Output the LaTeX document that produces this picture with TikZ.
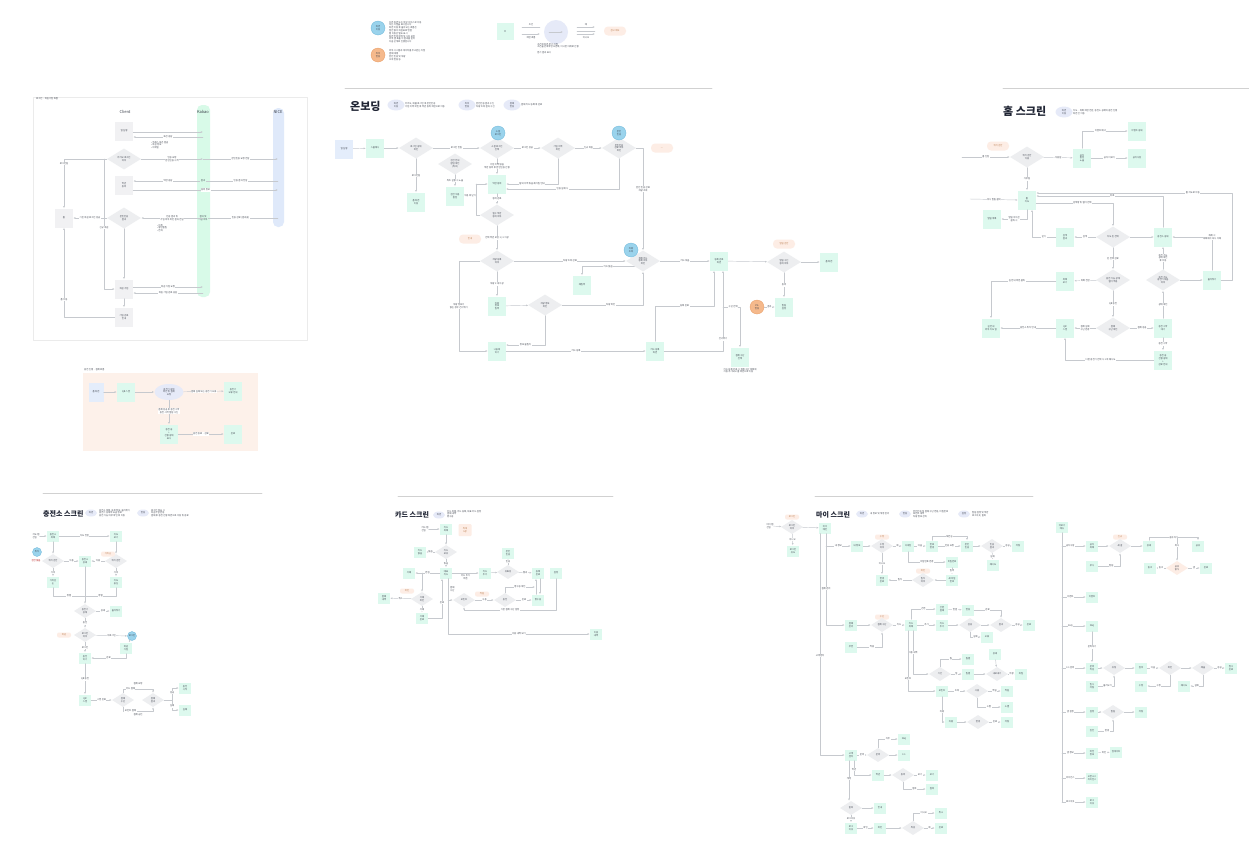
\documentclass[tikz,border=0pt]{standalone}
\usepackage{fontspec}
\setmainfont{Noto Sans CJK KR}
\usetikzlibrary{arrows.meta,shapes.geometric,positioning}
\definecolor{flowline}{HTML}{C6C9CE}
\definecolor{flowtext}{HTML}{3A3F4A}
\definecolor{mintfill}{HTML}{DDF9EE}
\definecolor{greyfill}{HTML}{EDEEF0}
\definecolor{skyfill}{HTML}{9AD3EC}
\definecolor{skyedge}{HTML}{6DB7DA}
\definecolor{apricot}{HTML}{F5B98C}
\definecolor{apricotedge}{HTML}{E89B62}
\definecolor{peachnote}{HTML}{FDEDE5}
\definecolor{lavender}{HTML}{E6EAF8}
\definecolor{icefill}{HTML}{E4EDFB}
\definecolor{lanegreen}{HTML}{D8FAE8}
\definecolor{laneblue}{HTML}{DFE9FA}
\definecolor{panelorange}{HTML}{FDF1EA}
\definecolor{titleink}{HTML}{1F2433}
\newcommand{\tinytext}{\fontsize{2.3}{2.8}\selectfont}

\begin{document}
\begin{tikzpicture}[
  x=1pt, y=-1pt,
  line join=round,
  line cap=round,
  flow/.style={draw=flowline, line width=0.45pt, -{Latex[length=2.2pt,width=1.8pt]}},
  link/.style={draw=flowline, line width=0.45pt},
  lbl/.style={font=\tinytext, text=flowtext, fill=white, inner sep=0.5pt, align=center},
  txt/.style={font=\tinytext, text=flowtext, inner sep=0pt, align=left},
  gbox/.style={fill=mintfill, minimum width=18pt, minimum height=19pt, inner sep=0.5pt, font=\tinytext, text=flowtext, align=center},
  sbox/.style={gbox, minimum width=12pt, minimum height=11pt},
  icebox/.style={gbox, fill=icefill},
  greybox/.style={gbox, fill=greyfill!80},
  gdia/.style={diamond, aspect=1.6, fill=greyfill, minimum width=34pt, minimum height=21pt, inner sep=0pt, font=\tinytext, text=flowtext, align=center},
  sdia/.style={gdia, minimum width=22pt, minimum height=14pt},
  skydot/.style={circle, fill=skyfill, draw=skyedge, line width=0.3pt, minimum size=14pt, inner sep=0pt, font=\tinytext, text=flowtext, align=center},
  skysmall/.style={skydot, minimum size=9pt},
  apridot/.style={skydot, fill=apricot, draw=apricotedge},
  memo/.style={rounded corners=4pt, fill=peachnote, minimum width=22pt, minimum height=9pt, inner sep=0.5pt, font=\tinytext, text=apricotedge!80!black, align=center},
  memosmall/.style={memo, minimum width=14pt, minimum height=5pt, rounded corners=2pt},
  tagoval/.style={ellipse, fill=lavender, minimum width=17pt, minimum height=11pt, inner sep=0pt, font=\tinytext, text=flowtext, align=center},
  tagsmall/.style={tagoval, minimum width=12pt, minimum height=7pt},
  lanehead/.style={font=\fontsize{4}{5}\selectfont, text=flowtext, inner sep=0pt},
  sectitle/.style={font=\bfseries\fontsize{11}{12}\selectfont, text=titleink, inner sep=0pt},
  subtitle/.style={font=\bfseries\fontsize{7}{8}\selectfont, text=titleink, inner sep=0pt},
  divider/.style={draw=black!18, line width=0.7pt}
]
  \useasboundingbox[fill=white] (0,0) rectangle (1249,860);

  % Legend at the top.
  \node[skydot] (keySky) at (378,28) {화면\\이동};
  \node[txt, anchor=west] (keySkyText) at (389,32) {다른 화면 또는 외부 서비스로 이동\\하는 지점을 표시합니다\\화면 이동 후 돌아오는 흐름은\\점선 없이 화살표로 연결\\탭 이동은 별도 표시\\화면 안의 팝업 및 시트 포함\\외부 앱 호출 시 결과를 받아\\다음 단계로 진행합니다};
  \node[apridot] (keyApri) at (378,55) {외부\\연동};
  \node[txt, anchor=west] (keyApriText) at (389,55) {외부 시스템과 데이터를 주고받는 지점\\결제 대행\\본인 인증 및 차량\\조회 연동 등};
  \node[gbox, minimum width=17pt, minimum height=17pt] (keyBox) at (505,31) {};
  \fill[flowtext] (keyBox.center) circle[radius=0.7pt];
  \coordinate (keyA1) at (522,27);
  \coordinate (keyA2) at (540,27);
  \coordinate (keyB1) at (522,34);
  \coordinate (keyB2) at (540,34);
  \draw[link] (keyA1) -- node[lbl, above=0.5pt]{조건} (keyA2);
  \draw[flow] (keyB1) -- node[lbl, below=1.5pt]{화면 흐름} (keyB2);
  \node[circle, fill=lavender, minimum size=24pt] (keyOval) at (556,32) {};
  \coordinate (keyOvalL) at (549,32);
  \coordinate (keyOvalR) at (563,32);
  \draw[flow] (keyOvalL) -- (keyOvalR);
  \node[txt, anchor=north] (keyOvalText) at (558,43) {조건에 따른 분기 지점\\조건을 만족하면 오른쪽, 아니면 아래로 진행\\\\분기 결과 표시};
  \coordinate (keyC1) at (577,27);
  \coordinate (keyC2) at (595,27);
  \coordinate (keyD1) at (577,31);
  \coordinate (keyD2) at (595,31);
  \coordinate (keyE1) at (577,34);
  \coordinate (keyE2) at (595,34);
  \draw[flow] (keyC1) -- node[lbl, above=0.5pt]{예} (keyC2);
  \draw[link] (keyD1) -- (keyD2);
  \draw[flow] (keyE1) -- node[lbl, below=1.5pt]{아니오} (keyE2);
  \node[memo] (keyMemo) at (615,31) {참고 메모};

  % Section dividers.
  \draw[divider] (345,88) -- (712,88);
  \draw[divider] (1003,88) -- (1249,88);
  \draw[divider] (43,493) -- (262,493);
  \draw[divider] (398,496) -- (613,496);
  \draw[divider] (815,496) -- (1033,496);

  % Login swimlane panel.
  \draw[draw=black!8, fill=white] (33,97) rectangle (307,340);
  \node[txt, anchor=west] (loginCap) at (36,99) {로그인 · 회원가입 흐름};
  \fill[lanegreen, rounded corners=5pt] (197,105) rectangle (210,297);
  \fill[laneblue, rounded corners=5pt] (273,108) rectangle (284,227);
  \node[lanehead] (laneClient) at (125,112) {Client};
  \node[lanehead] (laneKakao) at (203,112) {Kakao};
  \node[lanehead] (laneNice) at (278,112) {NICE};
  \node[greybox] (cStart) at (124,131) {앱 실행};
  \node[gdia] (cAuth) at (124,159) {카카오 로그인\\여부};
  \node[greybox] (cAgree) at (124,185) {약관\\동의};
  \node[gdia] (cCheck) at (124,218) {본인인증\\결과};
  \node[greybox] (cHome) at (64,218) {홈};
  \node[greybox] (cSignup) at (124,289) {회원 가입};
  \node[greybox] (cDone) at (124,317) {가입 완료\\안내};
  \coordinate (kA) at (203,132);
  \coordinate (kB) at (203,137);
  \coordinate (kC) at (203,159);
  \coordinate (kD) at (203,181);
  \coordinate (kE) at (203,190);
  \coordinate (kF) at (203,218);
  \coordinate (kG) at (203,287);
  \coordinate (kH) at (203,293);
  \coordinate (nC) at (278,159);
  \coordinate (nD) at (278,181);
  \coordinate (nE) at (278,190);
  \coordinate (nF) at (278,218);
  \draw[flow] (cStart.east |- kA) -- (kA);
  \draw[flow] (kB) -- node[lbl]{토큰 응답} (cStart.east |- kB);
  \node[txt, anchor=north west] (cBulletA) at (151,141) {• 액세스 토큰 발급\\• 회원 정보\\• 이메일};
  \draw[flow] (cAuth) -- node[lbl]{인증 요청\\본인인증 시작} (kC);
  \draw[flow] (kC) -- node[lbl]{본인인증 요청 전달} (nC);
  \draw[flow] (kD) -- node[lbl]{약관 응답} (cAgree.east |- kD);
  \draw[flow] (nD) -- node[lbl]{인증 결과 전달} (kD);
  \node[lbl, fill=lanegreen] (kDTag) at (kD) {결과};
  \draw[flow] (cAgree.east |- kE) -- node[lbl, pos=0.5]{동의 정보} (nE);
  \draw[flow] (nF) -- node[lbl]{인증 완료 (결과값)} (kF);
  \node[lbl, fill=lanegreen] (kFTag) at (kF) {결과 및\\가입 여부};
  \draw[flow] (kF) -- node[lbl]{인증 결과 및\\가입 여부 확인 결과 전달} (cCheck);
  \node[txt, anchor=north west] (cBulletB) at (157,224) {• 이름\\• 생년월일\\• 전화};
  \draw[flow] (cCheck) -- node[lbl]{기존 회원 로그인 성공} (cHome);
  \draw[flow] (cAuth.west) -- (cAuth.west -| cHome.north) -- node[lbl, pos=0.1]{로그인됨} (cHome.north);
  \coordinate (cMidX) at (104,159);
  \draw[flow] (cMidX) -- node[lbl, pos=0.53]{신규 회원} (cMidX |- cSignup.west) -- (cSignup.west);
  \draw[flow] (cCheck) -- (cSignup);
  \draw[flow] (cSignup.east |- kG) -- node[lbl]{회원 가입 요청} (kG);
  \draw[flow] (kH) -- node[lbl]{회원 가입 완료 응답} (cSignup.east |- kH);
  \draw[flow] (cSignup) -- (cDone);
  \draw[flow] (cDone.west) -| node[lbl, pos=0.6]{홈 이동} (cHome.south);

  % Charging panel with orange background.
  \fill[panelorange] (83,373) rectangle (258,451);
  \node[txt, anchor=west] (ppCap) at (84,370) {충전 진행 · 결제 흐름};
  \node[icebox, minimum width=15pt] (ppIn) at (96,392) {홈 화면};
  \node[gbox] (ppScan) at (126,392) {QR 스캔};
  \node[ellipse, fill=lavender, minimum width=29pt, minimum height=16pt, inner sep=0pt, font=\tinytext, text=flowtext, align=center] (ppCheck) at (169,392) {충전기 상태\\확인 및 결제\\요청};
  \node[gbox] (ppFail) at (233,391) {충전기\\오류 안내};
  \node[gbox] (ppCharge) at (169,434) {충전 중\\+\\진행 상태\\표시};
  \node[gbox] (ppDone) at (233,434) {완료};
  \draw[flow] (ppIn) -- (ppScan);
  \draw[flow] (ppScan) -- (ppCheck);
  \draw[flow] (ppCheck) -- node[lbl]{결제 실패 또는 충전기 오류} (ppFail);
  \draw[flow] (ppCheck) -- node[lbl, pos=0.45]{결제 성공 후 충전 시작\\충전 시작 알림 수신} (ppCharge);
  \draw[flow] (ppCharge) -- node[lbl]{충전 종료 · 완료} (ppDone);

  % Onboarding section.
  \node[sectitle, anchor=west] (obTitle) at (350,106) {온보딩};
  \node[tagoval] (obTag1) at (396,105) {화면\\이동};
  \node[txt, anchor=west] (obTag1Text) at (405,105) {카카오, 애플 로그인 후 본인인증\\가입 이력 확인 후 약관 동의 화면으로 이동};
  \node[tagoval] (obTag2) at (467,105) {외부\\연동};
  \node[txt, anchor=west] (obTag2Text) at (476,105) {본인인증 결과 수신\\차량 조회 결과 수신};
  \node[tagoval] (obTag3) at (512,105) {결제\\연동};
  \node[txt, anchor=west] (obTag3Text) at (521,105) {결제 카드 등록 후 완료};
  \node[icebox] (obLaunch) at (344,149) {앱 실행};
  \node[gbox] (obSplash) at (375,148) {스플래시};
  \node[gdia] (obLogged) at (416,148) {로그인 상태\\확인};
  \node[gdia] (obInvite) at (455,164) {권한 안내\\팝업 확인\\(최초)};
  \node[gbox] (obMain) at (416,202) {홈 화면\\이동};
  \node[gbox] (obCode) at (455,196) {권한 허용\\팝업};
  \node[gdia] (obSocial) at (497,148) {소셜 로그인\\선택};
  \node[skydot] (obSkyA) at (498,133) {소셜\\로그인};
  \node[gdia] (obTerms) at (558,148) {가입 이력\\확인};
  \node[gdia] (obPhone) at (619,148) {본인인증\\완료 여부\\확인};
  \node[skydot] (obSkyB) at (619,133) {본인\\인증};
  \node[memo] (obMemoA) at (662,148) {—};
  \node[gbox] (obJoin) at (497,184) {약관 동의};
  \node[gdia] (obPerm) at (497,215) {필수 약관\\동의 여부};
  \node[memo] (obMemoB) at (470,239) {안내};
  \node[gdia] (obCar) at (497,261) {차량 등록\\여부};
  \node[gbox] (obCarAdd) at (497,306) {차량\\정보\\입력};
  \node[gdia] (obCarChk) at (545,305) {차량 정보\\확인};
  \node[gbox] (obSkip) at (497,351) {나중에\\하기};
  \node[gdia] (obCard) at (643,261) {결제 카드\\등록 여부\\확인};
  \node[skydot] (obSkyC) at (631,250) {차량\\조회};
  \node[gbox] (obCardNo) at (582,285) {재입력};
  \node[gbox] (obCardReg) at (655,351) {카드 등록\\화면};
  \node[gbox] (obReady) at (719,261) {등록 완료\\화면};
  \node[apridot] (obPg) at (757,307) {PG\\연동};
  \node[gbox] (obPgRes) at (740,357) {결제 수단\\선택};
  \node[txt, anchor=north] (obPgNote) at (740,368) {카드 등록 완료 시 결제 수단 목록에\\자동 추가되고 홈 화면으로 이동};
  \node[memo] (obMemoC) at (784,244) {알림 권한};
  \node[gdia] (obFinal) at (784,262) {알림 수신\\동의 여부};
  \node[gbox] (obHome) at (829,262) {홈 화면};
  \node[gbox] (obNotice) at (784,307) {알림\\설정};
  \draw[flow] (obLaunch) -- (obSplash);
  \draw[flow] (obSplash) -- (obLogged);
  \draw[flow] (obLogged) -- node[lbl]{로그인 안됨} (obSocial);
  \draw[flow] (obLogged) -- node[lbl]{로그인됨} (obMain);
  \draw[flow] (obInvite) -- node[lbl]{최초 실행 시 노출} (obCode);
  \coordinate (obLoopTop) at (476,184);
  \coordinate (obLoopBot) at (476,215);
  \draw[flow] (obCode.east) -- node[lbl]{허용 후 닫기} (obCode.east -| obLoopTop);
  \draw[link] (obPerm.west) -- (obLoopBot) -- (obLoopTop);
  \draw[flow] (obLoopTop) -- (obJoin.west);
  \draw[flow] (obSocial) -- node[lbl]{로그인 성공} (obTerms);
  \draw[flow] (obTerms) -- node[lbl]{신규 회원} (obPhone);
  \draw[flow] (obSocial) -- node[lbl]{가입 이력 없음\\약관 동의 후 본인인증 진행} (obJoin);
  \draw[flow] (obTerms.south) |- node[lbl, pos=0.75]{탈퇴 이력 있음 재가입 안내} (obJoin.east);
  \coordinate (obJoinIn) at (506,189);
  \draw[flow] (obPhone.south) |- node[lbl, pos=0.75]{인증 실패 시} (obJoinIn);
  \draw[flow] (obPhone.east) -- (obPhone.east -| obCard.north) -- node[lbl, pos=0.4]{본인 인증 완료\\차량 조회} (obCard.north);
  \draw[flow] (obJoin) -- node[lbl]{동의 완료} (obPerm);
  \draw[flow] (obPerm) -- node[lbl]{선택 약관 포함 1 / 2 이상} (obCar);
  \draw[flow] (obCar) -- node[lbl]{차량 조회 완료} (obCard);
  \draw[flow] (obCar) -- node[lbl]{차량 1 대 이상} (obCarAdd);
  \draw[flow] (obCar.west) -- ++(-21,0) |- node[lbl, pos=0.25]{차량 정보가\\없는 경우 건너뛰기} (obSkip.west);
  \draw[flow] (obCarAdd) -- (obCarChk);
  \draw[flow] (obCarChk.east) -| node[lbl, pos=0.3]{차량 확인} (obCard.south);
  \coordinate (obSkipIn) at (506,345);
  \draw[flow] (obCarChk.south) |- node[lbl, pos=0.75]{정보 불일치} (obSkipIn);
  \draw[flow] (obSkip) -- node[lbl]{카드 등록} (obCardReg);
  \draw[flow] (obCard.south west) -| node[lbl, pos=0.25]{카드 없음} (obCardNo.north);
  \draw[flow] (obCard) -- node[lbl]{카드 있음} (obReady);
  \coordinate (obTurnA) at (714,306);
  \draw[flow] (obCardReg.north) |- node[lbl, pos=0.75]{등록 완료} (obTurnA) -- (obTurnA |- obReady.south);
  \coordinate (obTurnB) at (723,351);
  \draw[flow] (obCardReg.east) -- (obTurnB) -- node[lbl, pos=0.15]{건너뛰기} (obTurnB |- obReady.south);
  \coordinate (obTurnC) at (723,307);
  \draw[flow] (obTurnC) -| node[lbl, pos=0.3]{수단 선택} (obPgRes.north);
  \draw[flow] (obReady) -- (obFinal);
  \draw[flow] (obFinal) -- (obHome);
  \draw[flow] (obFinal) -- node[lbl]{동의} (obNotice);
  \draw[flow] (obPg) -- node[lbl]{결과} (obNotice);

  % Home screen section.
  \node[sectitle, anchor=west] (hmTitle) at (1003,111) {홈 스크린};
  \node[tagoval] (hmTag) at (1064,112) {화면\\이동};
  \node[txt, anchor=west] (hmTagText) at (1073,112) {지도 · 목록 화면 전환, 충전소 상세와 충전 진행\\화면 간 이동};
  \node[memo] (hmMemo) at (998,146) {위치 권한};
  \coordinate (hmEntry) at (962,157);
  \node[gdia] (hmLogin) at (1027,157) {위치 권한\\허용};
  \node[gbox] (hmPopup) at (1082,158) {공지\\팝업\\노출};
  \node[gbox] (hmEvent) at (1137,131) {이벤트 상세};
  \node[gbox] (hmNotice) at (1137,158) {공지사항};
  \node[gbox] (hmMain) at (1027,200) {홈\\지도};
  \node[gbox] (hmAlarm) at (992,219) {알림 목록};
  \node[gbox] (hmSearch) at (1065,237) {검색\\결과};
  \node[gdia] (hmMap) at (1113,237) {지도 핀 선택};
  \node[gbox] (hmStation) at (1163,237) {충전소 상세};
  \node[gdia] (hmFilter) at (1113,280) {충전 가능 상태\\필터 적용};
  \node[gbox] (hmList) at (1065,281) {목록\\보기};
  \node[gbox] (hmFav) at (1212,280) {즐겨찾기};
  \node[gdia] (hmCharge) at (1163,280) {충전 가능\\충전기 있음\\여부};
  \node[gbox] (hmRoute) at (991,328) {길 안내\\외부 지도 앱};
  \node[gbox] (hmQr) at (1065,328) {QR\\스캔};
  \node[gdia] (hmPay) at (1113,328) {결제\\수단 확인};
  \node[gbox] (hmStart) at (1163,328) {충전 시작\\대기};
  \node[gbox] (hmEnd) at (1163,360) {충전 중\\진행 상태\\+\\완료 안내};
  \draw[flow] (hmEntry) -- node[lbl]{홈 진입} (hmLogin);
  \draw[flow] (hmLogin) -- node[lbl]{허용됨} (hmPopup);
  \draw[flow] (hmPopup) -- node[lbl]{공지 더보기} (hmNotice);
  \draw[flow] (hmPopup.north) |- node[lbl, pos=0.7]{이벤트 배너} (hmEvent.west);
  \draw[flow] (hmLogin) -- node[lbl]{거부됨} (hmMain);
  \coordinate (hmAlarmIn) at (970,199);
  \draw[flow] (hmAlarmIn) -- node[lbl]{푸시 알림 클릭} (hmMain.west);
  \draw[flow] (hmMain.south) |- node[lbl, pos=0.75]{알림 아이콘\\클릭 시} (hmAlarm.east);
  \coordinate (hmTopR) at (1232,193);
  \draw[flow] (hmFav.east) -- (hmFav.east -| hmTopR) -- (hmTopR) -- node[lbl, pos=0.2]{홈 지도로 이동} (hmMain.east |- hmTopR);
  \coordinate (hmBackA) at (1163,196);
  \draw[flow] (hmStation.north) -- (hmBackA) -- node[lbl, pos=0.4]{뒤로} (hmMain.east |- hmBackA);
  \coordinate (hmTurnS) at (1113,203);
  \draw[flow] (hmMain.east |- hmTurnS) -- node[lbl, pos=0.6]{검색창 및 필터 선택} (hmTurnS) -- (hmMap.north);
  \coordinate (hmTurnM) at (1032,237);
  \draw[flow] (hmSearch.west) -- node[lbl]{닫기} (hmTurnM) -- (hmTurnM |- hmMain.south);
  \draw[flow] (hmMap) -- node[lbl]{검색} (hmSearch);
  \draw[flow] (hmMap) -- node[lbl]{핀 선택 완료} (hmFilter);
  \draw[flow] (hmMap) -- (hmStation);
  \draw[flow] (hmFilter) -- node[lbl]{목록 전환} (hmList);
  \draw[flow] (hmList.west) -| node[lbl, pos=0.3]{길 안내 버튼 클릭} (hmRoute.north);
  \draw[flow] (hmFilter) -- node[lbl]{QR 충전} (hmPay);
  \draw[flow] (hmPay) -- node[lbl]{결제 실패\\수단 변경} (hmQr);
  \draw[flow] (hmQr) -- node[lbl]{충전소 위치 안내} (hmRoute);
  \draw[flow] (hmPay) -- node[lbl]{결제 성공} (hmStart);
  \draw[flow] (hmStart) -- node[lbl]{상태 확인} (hmCharge);
  \draw[flow] (hmStart) -- node[lbl]{충전 시작} (hmEnd);
  \draw[flow] (hmEnd.west) -| node[lbl, pos=0.3]{다른 충전기 선택 시 1 회 재시도} (hmQr.south);
  \draw[flow] (hmCharge) -- node[lbl]{충전 가능\\상태 확인\\후 이동} (hmStation);
  \draw[flow] (hmCharge) -- (hmFav);
  \draw[flow] (hmFav.north) |- node[lbl, pos=0.5]{해제 시\\목록에서 즉시 삭제} (hmStation.east);

  % Charging station section.
  \node[subtitle, anchor=west] (csTitle) at (43,514) {충전소 스크린};
  \node[tagsmall] (csTag1) at (91,513) {화면};
  \node[txt, anchor=west] (csTag1Text) at (99,513) {충전소 목록, 상세 정보, 즐겨찾기\\충전기 상태와 요금 정보\\충전 가능 여부 확인 후 이동};
  \node[tagsmall] (csTag2) at (143,513) {연동};
  \node[txt, anchor=west] (csTag2Text) at (151,513) {로그인 필요 시\\회원가입 연동\\결제 후 충전 진행 화면으로 이동 및 종료};
  \node[txt] (csIn) at (36,536) {지도 탭\\진입};
  \node[sbox] (csList) at (53,536) {충전소\\목록};
  \node[sbox] (csMapView) at (116,536) {지도\\보기};
  \node[skysmall] (csSky) at (37,552) {위치};
  \node[txt, text=red!70!black] (csWarn) at (36,561) {권한 없음};
  \node[sdia] (csPermA) at (53,561) {위치 권한};
  \node[sbox] (csDetail) at (85,561) {충전소\\상세};
  \node[sdia] (csPermB) at (116,561) {위치 권한};
  \node[memosmall] (csMemo) at (108,554) {거리순};
  \node[sbox] (csNearA) at (53,582) {가까운\\순};
  \node[sbox] (csNearB) at (116,582) {지도\\중심};
  \node[sdia] (csAvail) at (85,611) {충전기\\상태};
  \node[sbox] (csFavAdd) at (116,611) {즐겨찾기};
  \node[sdia] (csLogin) at (85,635) {로그인\\여부};
  \node[memosmall] (csMemoB) at (64,635) {회원};
  \node[skysmall] (csSkyB) at (132,636) {로그인};
  \node[sbox] (csJoin) at (126,648) {회원\\가입};
  \node[sbox] (csCharge) at (85,658) {충전\\하기};
  \node[sbox] (csQr) at (85,700) {QR\\스캔};
  \node[sdia] (csPayA) at (123,700) {결제\\수단};
  \node[sdia] (csPayB) at (153,700) {결제\\결과};
  \node[sbox] (csOk) at (185,688) {충전\\시작};
  \node[sbox] (csFail) at (185,710) {실패};
  \draw[flow] (csIn) -- (csList);
  \draw[flow] (csList) -- node[lbl]{지도 전환} (csMapView);
  \draw[flow] (csList) -- (csPermA);
  \draw[flow] (csMapView) -- (csPermB);
  \draw[flow] (csPermA) -- node[lbl]{허용} (csDetail);
  \draw[flow] (csPermB) -- node[lbl]{허용} (csDetail);
  \draw[flow] (csPermA) -- node[lbl]{거부} (csNearA);
  \draw[flow] (csPermB) -- node[lbl]{거부} (csNearB);
  \coordinate (csJoinRow) at (85,596);
  \draw[link] (csNearA.south) |- node[lbl, pos=0.75]{정렬} (csJoinRow);
  \draw[link] (csNearB.south) |- node[lbl, pos=0.75]{정렬} (csJoinRow);
  \draw[flow] (csDetail) -- (csAvail);
  \draw[flow] (csAvail) -- node[lbl]{상세} (csFavAdd);
  \draw[flow] (csAvail) -- node[lbl]{충전} (csLogin);
  \draw[flow] (csLogin) -- node[lbl]{미로그인} (csSkyB);
  \draw[flow] (csSkyB) -- (csJoin);
  \draw[flow] (csJoin.south) |- node[lbl, pos=0.75]{완료} (csCharge.east);
  \draw[flow] (csLogin) -- node[lbl]{로그인} (csCharge);
  \draw[flow] (csCharge) -- node[lbl]{QR 충전} (csQr);
  \draw[flow] (csQr) -- node[lbl]{스캔 완료} (csPayA);
  \coordinate (csArcTop) at (138,689);
  \coordinate (csArcBot) at (138,711);
  \draw[flow] (csPayA.north) |- node[lbl, pos=0.75]{카드 결제} (csArcTop) -| (csPayB.north);
  \draw[flow] (csPayA.south) |- node[lbl, pos=0.75]{포인트 결제} (csArcBot) -| (csPayB.south);
  \node[txt] (csArcNoteA) at (138,684) {결제 요청};
  \node[txt] (csArcNoteB) at (138,715) {결제 승인};
  \draw[flow] (csPayB.east) -- ++(8,0) |- node[lbl, pos=0.3]{성공} (csOk.west);
  \draw[flow] (csPayB.east) -- ++(8,0) |- node[lbl, pos=0.3]{실패} (csFail.west);

  % Card screen section.
  \node[subtitle, anchor=west] (cdTitle) at (395,515) {카드 스크린};
  \node[tagsmall] (cdTag) at (439,515) {화면};
  \node[txt, anchor=west] (cdTagText) at (447,514) {카드 목록, 카드 등록, 대표 카드 설정\\결제 내역\\영수증};
  \node[txt] (cdIn) at (425,529) {카드 탭\\진입};
  \node[sbox] (cdList) at (446,529) {카드\\목록};
  \node[memo, minimum width=13pt, minimum height=12pt, rounded corners=1pt] (cdMemo) at (465,530) {최대\\5장};
  \node[sbox] (cdEmpty) at (420,552) {카드\\없음};
  \node[sdia] (cdHas) at (446,552) {카드\\보유};
  \node[sbox] (cdDel) at (409,573) {삭제};
  \node[sbox] (cdMain) at (446,573) {대표\\카드};
  \node[sbox] (cdAdd) at (485,573) {카드\\추가};
  \node[sdia] (cdValid) at (508,572) {유효성};
  \node[sbox] (cdAuth) at (508,553) {본인\\인증};
  \node[sbox] (cdDone) at (538,573) {등록\\완료};
  \node[sbox] (cdSet) at (556,573) {설정};
  \node[sbox] (cdPay) at (384,598) {결제\\내역};
  \node[memosmall] (cdMemoB) at (407,591) {확인};
  \node[sdia] (cdConfirm) at (422,599) {삭제\\확인};
  \node[sbox] (cdRemoved) at (422,618) {삭제\\완료};
  \node[sdia] (cdPoint) at (464,600) {포인트};
  \node[memosmall] (cdMemoC) at (482,594) {적립};
  \node[sdia] (cdCharge) at (505,600) {충전};
  \node[sbox] (cdReceipt) at (538,600) {영수증};
  \node[sbox] (cdHistory) at (596,634) {이용\\내역};
  \draw[flow] (cdIn) -- (cdList);
  \draw[flow] (cdList) -- (cdHas);
  \draw[flow] (cdHas) -- node[lbl]{없음} (cdEmpty);
  \draw[flow] (cdHas) -- node[lbl]{있음} (cdMain);
  \draw[flow] (cdMain) -- node[lbl]{편집} (cdDel);
  \coordinate (cdSplit) at (422,573);
  \draw[flow] (cdSplit) -- (cdConfirm);
  \draw[flow] (cdMain) -- node[lbl, below=1pt]{카드 추가\\버튼} (cdAdd);
  \draw[flow] (cdAdd) -- (cdValid);
  \draw[flow] (cdValid) -- node[lbl]{통과} (cdDone);
  \draw[flow] (cdValid) -- node[lbl]{인증} (cdAuth);
  \coordinate (cdLoop) at (556,610);
  \draw[flow] (cdSet.south) -- (cdLoop) -| node[lbl, pos=0.25]{기본 결제 수단 설정} (cdPoint.south);
  \draw[flow] (cdPoint) -- node[lbl]{사용} (cdCharge);
  \draw[flow] (cdCharge) -- node[lbl]{완료} (cdReceipt);
  \draw[flow] ([xshift=-2pt]cdReceipt.north) -- ([xshift=-2pt]cdDone.south);
  \draw[flow] ([xshift=2pt]cdDone.south) -- ([xshift=2pt]cdReceipt.north);
  \coordinate (cdBack) at (535,587);
  \draw[flow] (cdCharge.north) |- node[lbl, pos=0.75]{영수증 확인} (cdBack);
  \draw[flow] (cdConfirm) -- node[lbl]{취소} (cdPay);
  \draw[flow] (cdConfirm) -- node[lbl]{삭제} (cdRemoved);
  \draw[flow] (cdRemoved.east) -| node[lbl, pos=0.7]{완료} ([xshift=-4pt]cdMain.south);
  \coordinate (cdDrop) at (448,578.5);
  \draw[flow] (cdDrop) |- node[lbl, pos=0.75]{이용 내역 보기} (cdHistory.west);
  \draw[flow] (cdDrop |- cdPoint) -- (cdPoint.west);
  \node[txt, anchor=west] (cdDropNote) at (450,589) {결제\\수단};

  % My screen section.
  \node[subtitle, anchor=west] (myTitle) at (816,515) {마이 스크린};
  \node[tagsmall] (myTag1) at (862,514) {화면};
  \node[txt, anchor=west] (myTag1Text) at (870,514) {내 정보 및 계정 관리};
  \node[tagsmall] (myTag2) at (905,514) {연동};
  \node[txt, anchor=west] (myTag2Text) at (913,514) {본인인증 및 결제 수단 연동, 비밀번호\\포인트 내역\\차량 정보 관리};
  \node[tagsmall] (myTag3) at (964,514) {설정};
  \node[txt, anchor=west] (myTag3Text) at (972,514) {알림 설정 및 약관\\로그아웃, 탈퇴};
  \node[txt] (myIn) at (770,526) {마이 탭\\진입};
  \node[memosmall] (myMemo) at (792,517) {로그인};
  \node[sdia] (myLogin) at (792,527) {로그인\\여부};
  \node[sbox] (myGuest) at (793,551) {로그인\\유도};
  \node[sbox] (myHome) at (825,528) {마이\\메인};
  \coordinate (myTopA) at (820,533.5);
  \coordinate (myTopB) at (826,533.5);
  \coordinate (myTurnA) at (820,755);
  \coordinate (myTurnB) at (826,625);
  \draw[flow] (myIn) -- (myLogin);
  \draw[flow] (myLogin) -- node[lbl]{아니오} (myGuest);
  \draw[flow] (myLogin) -- (myHome);
  \node[sbox] (myProfile) at (857,546) {내 정보};
  \node[memosmall] (myMemoA) at (882,537) {수정};
  \node[sdia] (myEdit) at (882,546) {수정\\여부};
  \node[sbox] (myNick) at (908,546) {닉네임};
  \node[sbox] (myPhone) at (932,546) {번호\\변경};
  \node[sbox] (myCert) at (967,546) {본인\\인증};
  \node[sdia] (myCertOk) at (992,546) {인증\\결과};
  \node[sbox] (mySaved) at (1018,546) {저장};
  \node[sbox] (myRetry) at (993,565) {재시도};
  \node[sbox] (myPw) at (952,562) {비밀번호};
  \node[sbox] (myPwNew) at (952,580) {새 비밀\\번호};
  \node[memosmall] (myMemoB) at (923,571) {확인};
  \node[sdia] (myPwChk) at (923,580) {일치\\여부};
  \node[sbox] (myPwDone) at (882,580) {변경\\완료};
  \draw[flow] (myTopB |- myProfile) -- node[lbl]{내 정보} (myProfile);
  \draw[flow] (myProfile) -- (myEdit);
  \draw[flow] (myEdit) -- node[lbl]{예} (myNick);
  \draw[flow] (myNick) -- node[lbl]{다음} (myPhone);
  \draw[flow] (myPhone) -- node[lbl]{인증 요청} (myCert);
  \draw[flow] (myPhone.north) -- ++(0,-4) -| node[lbl, pos=0.25]{재전송} (myCert.north);
  \draw[flow] (myCert) -- (myCertOk);
  \draw[flow] (myCertOk) -- node[lbl]{성공} (mySaved);
  \draw[flow] (myCertOk) -- node[lbl]{실패} (myRetry);
  \draw[flow] (myEdit) -- node[lbl]{아니오} (myPwDone);
  \draw[flow] (myNick.south) |- node[lbl, pos=0.75]{비밀번호 변경} (myPw.west);
  \draw[flow] (myPw) -- node[lbl]{입력} (myPwNew);
  \draw[flow] (myPwNew) -- (myPwChk);
  \draw[flow] (myPwChk) -- node[lbl]{일치} (myPwDone);
  \node[sbox] (myWallet) at (851,625) {결제\\관리};
  \node[memosmall] (myMemoC) at (882,617) {수단};
  \node[sdia] (myMethod) at (882,625) {결제 수단};
  \node[sbox] (myCardL) at (911,625) {카드\\목록};
  \node[sbox] (myCardA) at (942,625) {카드\\추가};
  \node[sbox] (myCardB) at (942,609) {간편\\결제};
  \node[sbox] (myCardC) at (968,610) {연동};
  \node[sdia] (myCardV) at (970,625) {검증};
  \node[sdia] (myCardR) at (1001,625) {결과};
  \node[sbox] (myCardOk) at (1029,625) {완료};
  \node[sbox] (myCardErr) at (987,637) {오류};
  \node[sbox] (myCoupon) at (851,647) {쿠폰};
  \draw[flow] (myTopB) -- node[lbl, pos=0.6]{결제 관리} (myTurnB) -- (myWallet.west);
  \draw[flow] (myWallet) -- (myMethod);
  \draw[flow] (myMethod) -- node[lbl]{카드} (myCardL);
  \draw[flow] (myCardL) -- node[lbl]{추가} (myCardA);
  \draw[flow] (myCardA) -- (myCardV);
  \draw[flow] (myCardV) -- (myCardR);
  \draw[flow] (myCardR) -- node[lbl]{성공} (myCardOk);
  \draw[flow] (myCardL.north) |- node[lbl, pos=0.75]{간편} (myCardB.west);
  \draw[flow] (myCardB) -- node[lbl]{연결} (myCardC);
  \draw[flow] (myCardC.east) -| node[lbl, pos=0.25]{완료} (myCardR.north);
  \draw[flow] (myCardV.south) |- node[lbl, pos=0.75]{실패} (myCardErr.west);
  \draw[flow] (myCoupon.east) -| node[lbl, pos=0.3]{적용} (myMethod.south);
  \node[sbox] (myHist) at (995,654) {상세};
  \node[sbox] (myHistA) at (968,659) {월별};
  \node[sdia] (myPeriod) at (940,674) {기간};
  \node[sbox] (myHistB) at (968,674) {일별};
  \node[sdia] (myExport) at (997,674) {내보내기};
  \node[sbox] (myFile) at (1021,674) {파일};
  \node[sbox] (myPoint) at (942,691) {포인트};
  \node[sdia] (myPointU) at (977,691) {사용};
  \node[sbox] (myPointA) at (1007,691) {적립};
  \node[sbox] (myPointB) at (1007,707) {소멸};
  \node[sbox] (myCar) at (951,722) {차량};
  \node[sdia] (myCarU) at (978,722) {변경};
  \node[sbox] (myCarA) at (1007,722) {저장};
  \coordinate (myDropA) at (913,674);
  \coordinate (myDropB) at (908,691);
  \draw[flow] (myCardL.south -| myDropA) -- node[lbl, pos=0.5]{이용 내역} (myDropA) -- (myPeriod.west);
  \draw[flow] (myCardL.south -| myDropB) -- node[lbl, pos=0.8]{포인트} (myDropB) -- (myPoint.west);
  \draw[flow] (myPeriod.north) |- node[lbl, pos=0.75]{월} (myHistA.west);
  \draw[flow] (myPeriod) -- node[lbl]{일} (myHistB);
  \draw[flow] (myHistB) -- (myExport);
  \draw[flow] (myExport) -- node[lbl]{저장} (myFile);
  \draw[flow] (myHist) -- (myExport);
  \draw[flow] (myPoint) -- node[lbl]{조회} (myPointU);
  \draw[flow] (myPointU) -- node[lbl]{적립} (myPointA);
  \draw[flow] (myPointU.south) |- node[lbl, pos=0.75]{소멸} (myPointB.west);
  \draw[flow] (myPoint.south) |- node[lbl, pos=0.3]{차량} (myCar.west);
  \draw[flow] (myCar) -- (myCarU);
  \draw[flow] (myCarU) -- node[lbl]{완료} (myCarA);
  \node[sbox] (mySupport) at (851,755) {고객\\센터};
  \node[sdia] (myFaq) at (878,755) {문의};
  \node[sbox] (myFaqA) at (904,755) {1:1};
  \node[sbox] (myFaqB) at (904,739) {FAQ};
  \node[sbox] (myTerms) at (878,775) {약관};
  \node[sdia] (myTermsV) at (903,775) {동의};
  \node[sbox] (myTermsA) at (932,775) {보기};
  \node[sbox] (myTermsB) at (932,789) {철회};
  \node[sdia] (myOut) at (851,808) {탈퇴};
  \node[sbox] (myOutA) at (880,808) {안내};
  \node[sbox] (myLogout) at (851,828) {로그\\아웃};
  \node[sbox] (myOutB) at (880,828) {확인};
  \node[sdia] (myOutC) at (913,828) {최종};
  \node[sbox] (myOutD) at (941,828) {완료};
  \node[sbox] (myOutE) at (941,813) {취소};
  \draw[flow] (myTopA) -- node[lbl, pos=0.55]{고객센터} (myTurnA) -- (mySupport.west);
  \draw[flow] (mySupport) -- node[lbl]{문의} (myFaq);
  \draw[flow] (myFaq) -- (myFaqA);
  \draw[flow] (myFaq.north) |- node[lbl, pos=0.75]{자주} (myFaqB.west);
  \draw[flow] ([xshift=3pt]mySupport.south) |- node[lbl, pos=0.3]{약관} (myTerms.west);
  \draw[flow] (myTerms) -- (myTermsV);
  \draw[flow] (myTermsV) -- node[lbl]{보기} (myTermsA);
  \draw[flow] (myTermsV.south) |- node[lbl, pos=0.75]{철회} (myTermsB.west);
  \draw[flow] ([xshift=-2pt]mySupport.south) -- node[lbl, pos=0.45]{계정} ([xshift=-2pt]myOut.north);
  \draw[flow] (myOut) -- (myOutA);
  \draw[flow] (myOut) -- node[lbl]{로그아웃} (myLogout);
  \draw[flow] (myLogout) -- node[lbl]{확인} (myOutB);
  \draw[flow] (myOutB) -- (myOutC);
  \draw[flow] (myOutC) -- node[lbl]{예} (myOutD);
  \draw[flow] (myOutC.north) |- node[lbl, pos=0.75]{아니오} (myOutE.west);

  % More menu column on the right.
  \node[sbox] (rsMore) at (1062,527) {더보기\\메뉴};
  \coordinate (rsTrunk) at (1062,802);
  \draw[link] (rsMore) -- (rsTrunk);
  \node[sbox] (rsNotice) at (1092,546) {공지\\목록};
  \node[memosmall] (rsMemoA) at (1120,537) {신규};
  \node[sdia] (rsNoticeV) at (1120,546) {새 글};
  \node[sbox] (rsNoticeD) at (1149,546) {상세};
  \node[sbox] (rsNoticeS) at (1198,546) {공유};
  \node[sbox] (rsNoticeP) at (1092,566) {푸시};
  \node[sbox] (rsShareA) at (1150,568) {링크};
  \node[sdia, fill=peachnote] (rsShareV) at (1177,568) {공유\\방식};
  \node[sbox] (rsShareB) at (1206,568) {완료};
  \draw[flow] (rsTrunk |- rsNotice) -- node[lbl, pos=0.35]{공지사항} (rsNotice);
  \draw[flow] (rsNotice) -- (rsNoticeV);
  \draw[flow] (rsNoticeV) -- (rsNoticeD);
  \draw[flow] (rsNoticeD.north) -- ++(0,-3) -| node[lbl, pos=0.25]{공유하기} (rsNoticeS.north);
  \coordinate (rsBranch) at (1177,537.5);
  \draw[flow] (rsBranch) -- node[lbl, pos=0.35]{복사} (rsShareV.north);
  \draw[flow] (rsShareV) -- node[lbl]{링크} (rsShareA);
  \draw[flow] (rsShareV) -- node[lbl]{앱} (rsShareB);
  \draw[flow] (rsNoticeP.east) -| node[lbl, pos=0.3]{알림} (rsNoticeV.south);
  \node[sbox] (rsEvent) at (1092,597) {이벤트};
  \draw[flow] (rsTrunk |- rsEvent) -- node[lbl, pos=0.35]{이벤트} (rsEvent);
  \node[sbox] (rsFaq) at (1092,626) {FAQ};
  \draw[flow] (rsTrunk |- rsFaq) -- node[lbl, pos=0.35]{FAQ} (rsFaq);
  \node[sbox] (rsApp) at (1092,668) {문의\\작성};
  \node[sdia] (rsAppV) at (1114,668) {유형};
  \node[sbox] (rsAppA) at (1141,668) {첨부};
  \node[sdia] (rsAppB) at (1170,668) {확인};
  \node[sdia] (rsAppC) at (1203,668) {제출};
  \node[sbox] (rsAppD) at (1231,668) {접수\\완료};
  \node[sbox] (rsAppE) at (1092,686) {임시\\저장};
  \node[sbox] (rsAppF) at (1141,686) {수정};
  \node[sbox] (rsAppG) at (1184,686) {재시도};
  \draw[flow] (rsFaq) -- node[lbl]{문의하기} (rsApp);
  \draw[flow] (rsTrunk |- rsApp) -- node[lbl, pos=0.35]{1:1 문의} (rsApp);
  \draw[flow] (rsApp) -- (rsAppV);
  \draw[flow] (rsAppV) -- (rsAppA);
  \draw[flow] (rsAppA) -- node[lbl]{다음} (rsAppB);
  \draw[flow] (rsAppB) -- (rsAppC);
  \draw[flow] (rsAppC) -- node[lbl]{성공} (rsAppD);
  \draw[flow] (rsAppE.east) -| node[lbl, pos=0.3]{불러오기} (rsAppV.south);
  \draw[flow] (rsAppB.south) |- node[lbl, pos=0.75]{수정} (rsAppF.east);
  \draw[flow] (rsAppC.south) |- node[lbl, pos=0.75]{실패} (rsAppG.east);
  \node[sbox] (rsSet) at (1092,712) {설정};
  \node[sdia] (rsSetV) at (1113,712) {알림};
  \node[sbox] (rsSetA) at (1141,712) {저장};
  \node[sbox] (rsSetB) at (1092,731) {권한};
  \draw[flow] (rsTrunk |- rsSet) -- node[lbl, pos=0.35]{앱 설정} (rsSet);
  \draw[flow] (rsSet) -- (rsSetV);
  \draw[flow] (rsSetV) -- (rsSetA);
  \draw[flow] (rsSetB.east) -| node[lbl, pos=0.3]{변경} (rsSetV.south);
  \node[sbox] (rsVer) at (1092,753) {버전\\정보};
  \node[sbox] (rsVerA) at (1116,752) {업데이트};
  \draw[flow] (rsTrunk |- rsVer) -- node[lbl, pos=0.35]{앱 정보} (rsVer);
  \draw[flow] (rsVer) -- node[lbl]{확인} (rsVerA);
  \node[sbox] (rsLicense) at (1092,778) {오픈소스\\라이선스};
  \draw[flow] (rsTrunk |- rsLicense) -- node[lbl, pos=0.35]{라이선스} (rsLicense);
  \node[sbox] (rsLogout) at (1092,802) {로그\\아웃};
  \draw[flow] (rsTrunk) -- node[lbl, pos=0.35]{로그아웃} (rsLogout);
\end{tikzpicture}
\end{document}
